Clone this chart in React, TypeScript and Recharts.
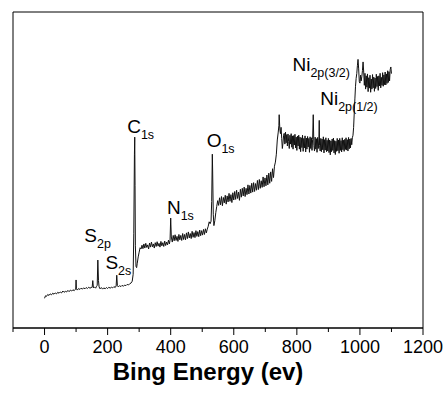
import { LineChart, Line, XAxis, YAxis, ReferenceArea, ReferenceDot } from "recharts";

// XPS survey spectrum (binding energy eV, intensity a.u.)
const lowRegion: [number, number][] = [
  [0, 9.4], [3, 10.2], [6, 10.0], [10, 10.6], [14, 10.3], [18, 10.8], [22, 10.5], [26, 11.0], [30, 10.7],
  [34, 11.1], [38, 10.8], [42, 11.3], [46, 11.0], [50, 11.4], [54, 11.1], [58, 11.7], [62, 11.3], [66, 11.6],
  [70, 11.4], [74, 11.9], [78, 11.5], [82, 12.0], [86, 11.7], [90, 12.1], [94, 11.8], [97, 12.2], [99, 12.3],
  [100, 15.2], [101, 12.4], [104, 12.0], [108, 12.5], [112, 12.2], [116, 12.6], [120, 12.3], [124, 12.7],
  [128, 12.4], [132, 12.8], [136, 12.5], [140, 12.9], [144, 12.6], [148, 12.8], [151, 12.9], [153, 15.0],
  [155, 12.7], [158, 13.0], [162, 12.6], [165, 13.2], [167, 13.5], [169, 21.5], [171, 15.0], [173, 13.0],
  [176, 12.4], [180, 12.8], [184, 12.3], [188, 12.7], [192, 12.4], [196, 12.8], [200, 12.5], [204, 12.9],
  [208, 12.6], [212, 12.9], [216, 12.7], [220, 13.1], [224, 12.8], [227, 13.3], [229, 16.7], [231, 13.4],
  [234, 13.0], [238, 13.4], [242, 13.1], [246, 13.5], [250, 13.2], [254, 13.6], [258, 13.4], [262, 13.8],
  [266, 13.6], [270, 14.0], [274, 14.2], [278, 14.8],
];

const carbonNitrogen: [number, number][] = [
  [281, 17.0], [283, 30.0], [285, 55.0], [286, 60.4], [287, 45.0], [288, 26.0], [290, 19.5], [292, 19.1],
  [294, 20.5], [297, 22.5], [300, 24.0], [303, 25.4], [306, 25.0], [309, 26.2], [312, 25.1], [315, 26.6],
  [318, 25.3], [321, 26.8], [324, 25.5], [327, 26.3], [330, 25.0], [333, 26.9], [336, 25.6], [339, 27.2],
  [342, 25.7], [345, 26.6], [348, 25.3], [351, 27.0], [354, 25.8], [357, 27.3], [360, 25.9], [363, 26.8],
  [366, 25.6], [369, 27.4], [372, 26.0], [375, 27.0], [378, 25.8], [381, 27.5], [384, 26.1], [387, 27.2],
  [390, 26.3], [393, 27.8], [396, 26.6], [398, 27.8], [400, 34.8], [402, 28.8], [405, 27.2], [408, 29.3],
  [411, 27.6], [414, 29.5], [417, 27.7], [420, 29.0], [423, 27.4], [426, 29.6], [429, 27.9], [432, 29.3],
  [435, 27.7], [438, 29.9], [441, 28.0], [444, 29.6], [447, 27.9], [450, 30.1], [453, 28.3], [456, 30.4],
  [459, 28.5], [462, 29.9], [465, 28.3], [468, 30.6], [471, 28.7], [474, 30.2], [477, 28.6], [480, 30.8],
  [483, 29.0], [486, 30.5], [489, 28.9], [492, 31.0], [495, 29.2], [498, 30.8], [501, 29.4], [504, 31.2],
  [507, 29.6], [510, 31.4], [513, 30.1], [516, 31.3],
];

const oxygenRegion: [number, number][] = [
  [519, 32.2], [522, 33.6], [525, 33.0], [528, 33.8], [530, 40.0], [532, 55.0], [533, 50.0], [535, 36.0],
  [537, 32.4], [540, 34.0], [543, 36.5], [546, 38.5], [549, 40.3], [552, 38.8], [555, 41.2], [558, 39.0],
  [561, 41.6], [564, 38.7], [567, 41.3], [570, 39.6], [573, 42.0], [576, 39.2], [579, 41.8], [582, 39.9],
  [585, 42.6], [588, 40.1], [591, 42.2], [594, 39.7], [597, 42.8], [600, 40.5], [603, 43.2], [606, 40.7],
  [609, 43.6], [612, 41.0], [615, 43.0], [618, 40.4], [621, 43.9], [624, 41.4], [627, 44.2], [630, 41.8],
  [633, 44.6], [636, 41.6], [639, 44.2], [642, 42.2], [645, 45.3], [648, 42.4], [651, 45.1], [654, 42.7],
  [657, 45.8], [660, 43.0], [663, 46.0], [666, 43.2], [669, 45.7], [672, 43.6], [675, 46.7], [678, 43.8],
  [681, 47.0], [684, 44.2], [687, 46.6], [690, 44.5], [693, 47.8], [696, 44.7], [699, 47.5], [702, 45.0],
  [705, 48.4], [708, 45.3], [711, 49.0], [714, 45.8], [717, 49.4], [720, 46.4], [723, 50.4], [726, 47.6],
  [729, 51.2], [732, 52.5], [735, 55.0], [738, 59.5], [741, 62.0], [743, 64.0], [744, 67.5], [746, 63.0],
  [748, 61.5], [750, 63.5], [752, 60.0], [754, 56.8], [756, 58.5], [758, 61.0],
];

const plateau: [number, number][] = [
  [760, 61.6], [762, 58.2], [764, 62.0], [766, 58.6], [768, 61.2], [770, 57.6], [772, 61.4], [774, 59.0],
  [776, 56.8], [778, 61.0], [780, 58.2], [782, 61.5], [784, 57.2], [786, 60.8], [788, 56.6], [790, 60.9],
  [792, 57.9], [794, 61.3], [796, 57.0], [798, 60.4], [800, 56.2], [802, 60.7], [804, 57.6], [806, 61.0],
  [808, 56.6], [810, 60.4], [812, 55.8], [814, 60.2], [816, 57.1], [818, 61.0], [820, 55.9], [822, 60.0],
  [824, 57.0], [826, 60.8], [828, 55.7], [830, 60.1], [832, 56.6], [834, 60.6], [836, 57.3], [838, 60.0],
  [840, 55.6], [842, 60.5], [844, 56.8], [846, 60.2], [848, 56.2], [850, 59.7], [852, 67.5], [854, 57.7],
  [856, 56.0], [858, 60.4], [860, 56.6], [862, 59.9], [864, 55.6], [866, 60.3], [868, 56.8], [870, 60.0],
  [871, 65.7], [872, 57.8], [874, 56.0], [876, 60.0], [878, 55.8], [880, 59.8], [882, 56.4], [884, 60.5],
  [886, 55.4], [888, 59.6], [890, 56.3], [892, 60.2], [894, 55.8], [896, 59.4], [898, 56.0], [900, 60.0],
  [902, 55.5], [904, 59.5], [906, 54.8], [908, 59.2], [910, 55.8], [912, 59.8], [914, 56.2], [916, 60.1],
  [918, 55.4], [920, 59.3], [922, 54.9], [924, 59.1], [926, 55.9], [928, 60.0], [930, 56.1], [932, 59.5],
  [934, 55.3], [936, 60.0], [938, 56.2], [940, 59.3], [942, 55.7], [944, 60.2], [946, 56.4], [948, 59.4],
  [950, 55.9], [952, 59.7], [954, 56.5], [956, 60.2], [958, 56.3], [960, 59.6], [962, 56.0], [964, 60.3],
  [966, 56.7], [968, 59.8], [970, 57.0], [972, 60.0], [974, 58.0], [976, 60.2],
];

const nickelRegion: [number, number][] = [
  [978, 61.0], [980, 63.5], [982, 68.0], [984, 72.5], [986, 76.5], [988, 79.0], [990, 80.5], [992, 83.0],
  [994, 85.0], [996, 82.0], [998, 78.0], [1000, 77.5], [1002, 80.0], [1004, 78.2], [1006, 79.5], [1008, 81.5],
  [1010, 84.2], [1012, 81.0], [1014, 76.8], [1016, 80.6], [1018, 75.6], [1020, 79.8], [1022, 76.2],
  [1024, 80.4], [1026, 74.8], [1028, 79.2], [1030, 75.9], [1032, 80.0], [1034, 74.6], [1036, 78.8],
  [1038, 75.6], [1040, 80.2], [1042, 76.0], [1044, 79.4], [1046, 74.9], [1048, 79.1], [1050, 75.8],
  [1052, 80.3], [1054, 76.4], [1056, 79.6], [1058, 75.2], [1060, 79.8], [1062, 76.6], [1064, 80.6],
  [1066, 76.0], [1068, 79.3], [1070, 76.8], [1072, 80.8], [1074, 76.5], [1076, 80.1], [1078, 77.0],
  [1080, 81.0], [1082, 76.9], [1084, 80.4], [1086, 77.4], [1088, 81.4], [1090, 77.7], [1092, 81.1],
  [1094, 78.2], [1096, 81.8], [1098, 82.6], [1100, 80.5],
];

// peak labels: [main, subscript, energy, intensity] (text anchored at baseline-left)
const peakLabels: [string, string, number, number][] = [
  ["S", "2p", 126, 27.3],
  ["S", "2s", 193, 18.6],
  ["C", "1s", 262, 61.8],
  ["N", "1s", 388, 36.0],
  ["O", "1s", 514, 57.4],
  ["Ni", "2p(3/2)", 786, 81.4],
  ["Ni", "2p(1/2)", 874, 70.6],
];

const xTicks = [-100, 0, 100, 200, 300, 400, 500, 600, 700, 800, 900, 1000, 1100, 1200];

const data = [...lowRegion, ...carbonNitrogen, ...oxygenRegion, ...plateau, ...nickelRegion].map(
  ([e, i]) => ({ e, i })
);

const FONT = "'Liberation Sans', Arial, Helvetica, sans-serif";

function XTick(props: any) {
  const { x, y, payload } = props;
  const v = payload.value;
  const major = v >= 0 && v % 200 === 0;
  return (
    <g>
      <line x1={x} x2={x} y1={y} y2={y + (major ? 7 : 4)} stroke="#000" strokeWidth={1} />
      {major && (
        <text x={x} y={y + 25} textAnchor="middle" fontSize={18} fontFamily={FONT} fill="#000">
          {v}
        </text>
      )}
    </g>
  );
}

function peakText(main: string, sub: string) {
  return (props: any) => (
    <text x={props.cx} y={props.cy} fontFamily={FONT} fill="#000" fontSize={19}>
      {main}
      <tspan fontSize={12.5} dy={6}>
        {sub}
      </tspan>
    </text>
  );
}

export default function App() {
  return (
    <div style={{ position: "absolute", left: 0, top: 0, width: 448, height: 393, background: "#fff" }}>
      <LineChart width={448} height={393} data={data} margin={{ top: 12, right: 25, left: 13, bottom: 0 }}>
        <XAxis
          dataKey="e"
          type="number"
          domain={[-100, 1200]}
          ticks={xTicks}
          interval={0}
          tickSize={0}
          tickMargin={0}
          tickLine={false}
          tick={<XTick />}
          height={65}
          axisLine={{ stroke: "#000" }}
          label={{
            content: () => (
              <text x={208} y={380} textAnchor="middle" fontSize={24} fontWeight="bold" fontFamily={FONT} fill="#000">
                Bing Energy (ev)
              </text>
            ),
          }}
        />
        <YAxis hide domain={[0, 100]} type="number" />
        <ReferenceArea x1={-100} x2={1200} y1={0} y2={100} fill="none" stroke="#000" strokeWidth={1} />
        <Line
          dataKey="i"
          type="linear"
          stroke="#111"
          strokeWidth={1}
          dot={false}
          isAnimationActive={false}
        />
        {peakLabels.map(([m, s, e, v]) => (
          <ReferenceDot key={m + s} x={e} y={v} r={0} shape={peakText(m, s)} />
        ))}
      </LineChart>
    </div>
  );
}
